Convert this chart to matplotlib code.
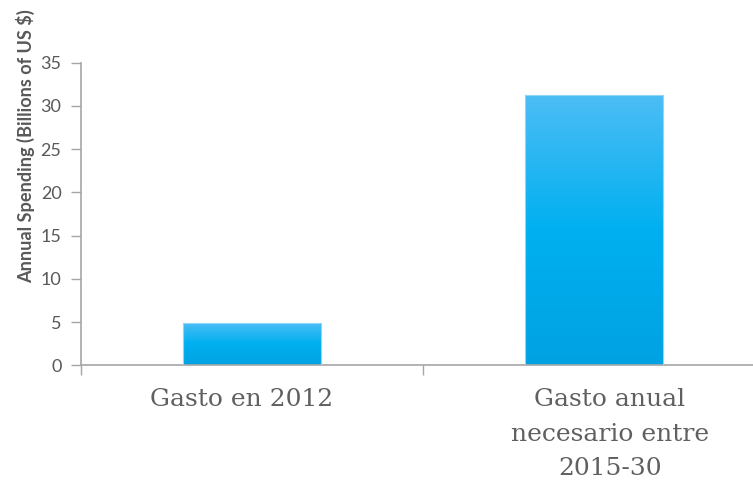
import numpy as np
import matplotlib
matplotlib.use("Agg")
import matplotlib.pyplot as plt
from matplotlib.colors import LinearSegmentedColormap

categories = ["Gasto en 2012", "Gasto anual\nnecesario entre\n2015-30"]
values = [4.9, 31.3]
y_ticks = [0, 5, 10, 15, 20, 25, 30, 35]
y_label = "Annual Spending (Billions of US $)"

W, H = 753, 483
fig = plt.figure(figsize=(W / 100, H / 100), dpi=100)
left, right = 81, 753
top, bottom = 62.7, 365.3
ax = fig.add_axes([left / W, (H - bottom) / H, (right - left) / W, (bottom - top) / H])

xpos = np.arange(len(categories))
bars = ax.bar(xpos, values, width=0.405, color="none", edgecolor="#8fd6f7", linewidth=0.8, zorder=3)

cmap = LinearSegmentedColormap.from_list("g", ["#00a2e2", "#00b0f0", "#4dbdf5"])
grad = np.linspace(0, 1, 256).reshape(-1, 1)
for b in bars:
    x0, y0, w, h = b.get_x(), b.get_y(), b.get_width(), b.get_height()
    im = ax.imshow(grad, cmap=cmap, aspect="auto", origin="lower",
                   extent=[x0, x0 + w, y0, y0 + h], zorder=2)
    im.set_clip_path(b)

ax.set_yticks(y_ticks)
ax.set_yticklabels([str(t) for t in y_ticks], fontfamily="Lato", fontsize=13, color="#595959")
ax.tick_params(axis="y", direction="out", length=7, width=1, color="#a6a6a6", pad=7)

ax.set_xticks([])
ax.set_xticks([-0.5, 0.5], minor=True)
ax.tick_params(axis="x", which="minor", direction="out", length=7, width=1, color="#a6a6a6")

# category labels (slightly offset from bar centres, as in the original)
label_dx = [-7.2, 11.5]
for i, lab in enumerate(categories):
    ax.annotate(lab, xy=(xpos[i], 0), xycoords=("data", "axes fraction"),
                xytext=(label_dx[i], -16.1), textcoords="offset points",
                ha="center", va="top", multialignment="center",
                fontfamily="DejaVu Serif", fontsize=18, color="#606060",
                linespacing=1.66, annotation_clip=False)

ax.set_xlim(-0.5, -0.5 + (right - left) / 342.0)
ax.set_ylim(0, 35)

for s in ["top", "right"]:
    ax.spines[s].set_visible(False)
for s in ["left", "bottom"]:
    ax.spines[s].set_color("#a6a6a6")
    ax.spines[s].set_linewidth(1.2)

fig.text(26 / W, (H - 146) / H, y_label, rotation=90, ha="center", va="center",
         fontfamily="Lato", fontweight="bold", fontsize=13.1, color="#595959")

fig.savefig("out.png", dpi=100)
